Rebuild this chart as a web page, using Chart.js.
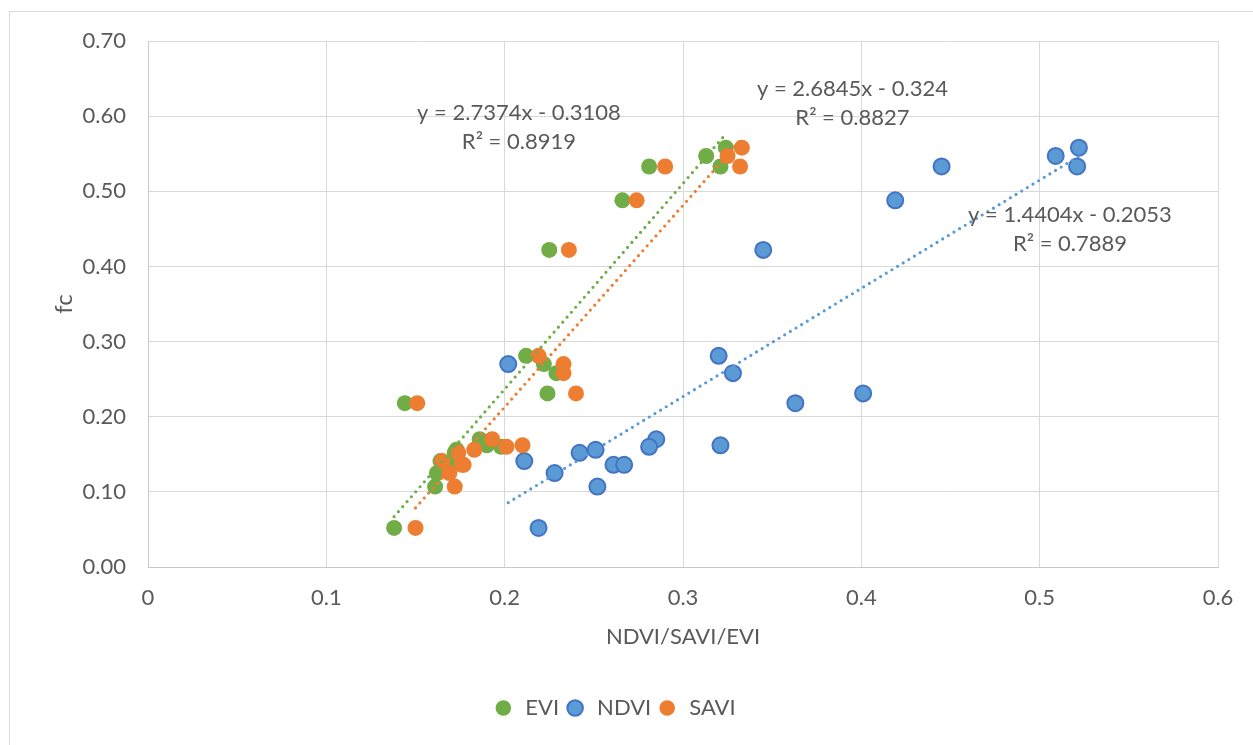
<!DOCTYPE html>
<html>
<head>
<meta charset="utf-8">
<script src="https://cdn.jsdelivr.net/npm/chart.js@4.4.1/dist/chart.umd.min.js"></script>
<style>
  body { margin: 0; background: #fff; }
</style>
</head>
<body>
<canvas id="fcChart" width="1253" height="745"></canvas>
<script>
// fc values and the three indices for each sample
const fc   = [0.558, 0.547, 0.533, 0.533, 0.488, 0.422, 0.281, 0.270, 0.258, 0.231, 0.218,
              0.170, 0.162, 0.160, 0.156, 0.152, 0.141, 0.136, 0.136, 0.125, 0.107, 0.052];
const ndvi = [0.522, 0.509, 0.445, 0.521, 0.419, 0.345, 0.320, 0.202, 0.328, 0.401, 0.363,
              0.285, 0.321, 0.281, 0.251, 0.242, 0.211, 0.261, 0.267, 0.228, 0.252, 0.219];
const savi = [0.333, 0.325, 0.290, 0.332, 0.274, 0.236, 0.219, 0.233, 0.233, 0.240, 0.151,
              0.193, 0.210, 0.201, 0.183, 0.174, 0.165, 0.177, 0.176, 0.169, 0.172, 0.150];
const evi  = [0.324, 0.313, 0.281, 0.321, 0.266, 0.225, 0.212, 0.222, 0.229, 0.224, 0.144,
              0.186, 0.190, 0.198, 0.173, 0.172, 0.164, 0.168, 0.170, 0.162, 0.161, 0.138];

const seriesNames = ['EVI', 'NDVI', 'SAVI'];
const trendSlopes = [2.7374, 1.4404, 2.6845];
const trendIntercepts = [-0.3108, -0.2053, -0.324];
const trendR2 = ['0.8919', '0.7889', '0.8827'];
const trendEqText = ['y = 2.7374x - 0.3108', 'y = 1.4404x - 0.2053', 'y = 2.6845x - 0.324'];

const textColor = '#595959';
const fontFamily = 'Lato, "Open Sans", sans-serif';
const colors = ['#70AD47', '#5B9BD5', '#ED7D31'];
const borders = ['#70AD47', '#4472C4', '#ED7D31'];

const xs = [evi, ndvi, savi];

const pts = (xv) => xv.map((v, i) => ({ x: v, y: fc[i] }));
const trend = (k) => {
    const lo = Math.min(...xs[k]), hi = Math.max(...xs[k]);
    return [lo, hi].map(v => ({ x: v, y: trendSlopes[k] * v + trendIntercepts[k] }));
};

const datasets = [];
seriesNames.forEach((name, k) => {
    datasets.push({
        label: name,
        data: pts(xs[k]),
        backgroundColor: colors[k],
        borderColor: borders[k],
        borderWidth: k === 1 ? 2 : 0,
        pointRadius: 8,
        pointHoverRadius: 8,
        order: 3 - k
    });
});
seriesNames.forEach((name, k) => {
    datasets.push({
        label: 'trend ' + name,
        data: trend(k),
        showLine: true,
        borderColor: colors[k],
        borderWidth: 3.2,
        borderDash: [0, 6.6],
        borderCapStyle: 'round',
        pointRadius: 0,
        order: 0
    });
});

// label positions in data units
const eqPos = [
    { x: 0.208, y: 0.604 },
    { x: 0.517, y: 0.468 },
    { x: 0.395, y: 0.636 }
];

const frame = {
    id: 'frame',
    beforeDraw(chart) {
        const ctx = chart.ctx;
        ctx.save();
        ctx.fillStyle = '#fff';
        ctx.fillRect(0, 0, chart.width, chart.height);
        ctx.strokeStyle = '#d9d9d9';
        ctx.lineWidth = 1;
        ctx.strokeRect(9.5, 11.5, 1400, 900);
        ctx.restore();
    }
};

const eqLabels = {
    id: 'eqLabels',
    afterDatasetsDraw(chart) {
        const ctx = chart.ctx;
        const xScale = chart.scales.x, yScale = chart.scales.y;
        ctx.save();
        ctx.fillStyle = textColor;
        ctx.font = '22px ' + fontFamily;
        ctx.textAlign = 'center';
        ctx.textBaseline = 'middle';
        eqPos.forEach((p, k) => {
            const px = xScale.getPixelForValue(p.x);
            const py = yScale.getPixelForValue(p.y);
            ctx.fillText(trendEqText[k], px, py);
            ctx.fillText('R² = ' + trendR2[k], px, py + 29);
        });
        ctx.restore();
    }
};

new Chart(document.getElementById('fcChart'), {
    type: 'scatter',
    data: { datasets: datasets },
    plugins: [frame, eqLabels],
    options: {
        responsive: false,
        animation: false,
        layout: { padding: { left: 10, top: 41, right: 35, bottom: 16 } },
        plugins: {
            tooltip: { enabled: false },
            legend: {
                position: 'bottom',
                labels: {
                    usePointStyle: true,
                    boxHeight: 11,
                    padding: 5,
                    color: textColor,
                    font: { family: fontFamily, size: 22 },
                    filter: item => seriesNames.includes(item.text),
                    sort: (a, b) => a.datasetIndex - b.datasetIndex
                }
            }
        },
        scales: {
            x: {
                type: 'linear',
                min: 0,
                max: 0.6,
                ticks: {
                    stepSize: 0.1,
                    color: textColor,
                    padding: 18,
                    font: { family: fontFamily, size: 22 }
                },
                grid: { color: '#d9d9d9', drawTicks: false },
                border: { color: '#c8c8c8' },
                title: {
                    display: true,
                    text: 'NDVI/SAVI/EVI',
                    color: textColor,
                    font: { family: fontFamily, size: 22 },
                    padding: { top: 0, bottom: 42 }
                },
                afterFit: s => { s.height = 125; }
            },
            y: {
                min: 0,
                max: 0.7,
                ticks: {
                    stepSize: 0.1,
                    color: textColor,
                    padding: 22,
                    font: { family: fontFamily, size: 22 },
                    callback: v => v.toFixed(2)
                },
                grid: { color: '#d9d9d9', drawTicks: false },
                border: { color: '#c8c8c8' },
                title: {
                    display: true,
                    text: 'fc',
                    color: textColor,
                    font: { family: fontFamily, size: 24 },
                    padding: { top: 40, bottom: 0 }
                },
                afterFit: s => { s.width = 138; }
            }
        }
    }
});
</script>
</body>
</html>
